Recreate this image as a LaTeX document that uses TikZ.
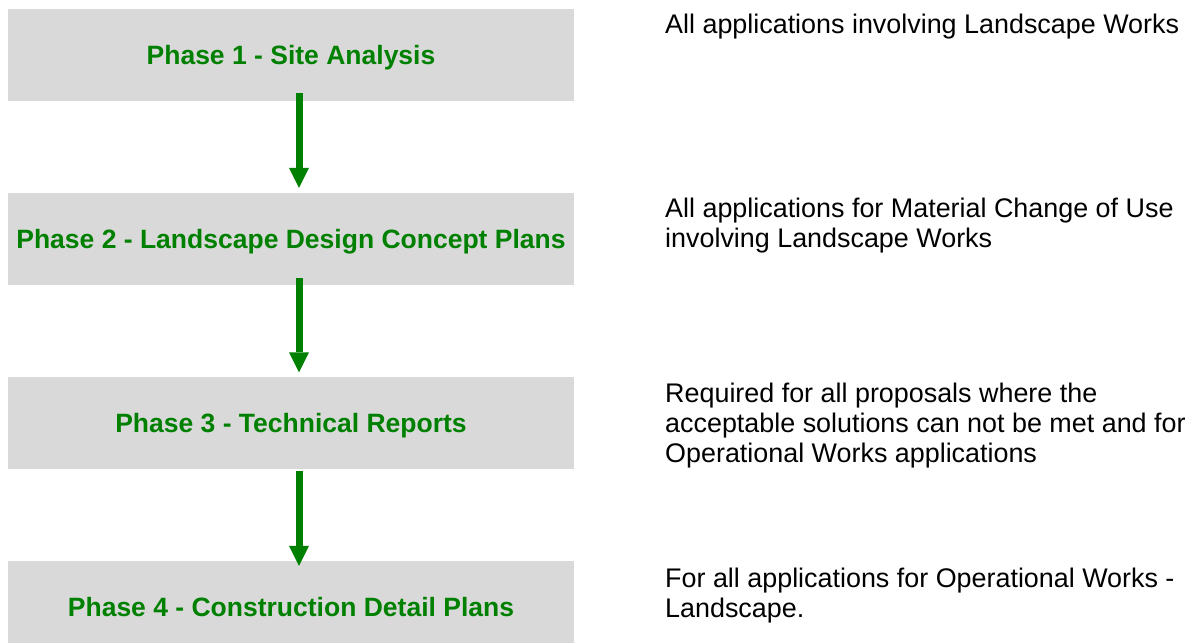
\documentclass[tikz,border=0pt]{standalone}
\usepackage{fontspec}
\setmainfont{Liberation Sans}
\usetikzlibrary{arrows.meta}
\definecolor{boxgray}{RGB}{217,217,217}
\definecolor{phasegreen}{RGB}{0,128,0}
\tikzset{
  phasebox/.style={rectangle, fill=boxgray, draw=none, minimum width=566pt, minimum height=92pt, inner sep=0pt,
    text depth=0pt, text=phasegreen, font=\fontsize{26.5}{30}\selectfont\bfseries},
  flowarrow/.style={draw=phasegreen, line width=7pt, -{Triangle[width=20pt,length=20pt,line width=0pt]}},
  note/.style={anchor=base west, inner sep=0pt, align=left, text=black, font=\fontsize{26.9}{30}\selectfont}
}
\begin{document}
\begin{tikzpicture}[x=1pt,y=-1pt]
\useasboundingbox (0,0) rectangle (1190,642);
\clip (0,0) rectangle (1190,642);
\node[phasebox] (b1) at (291,55) {Phase 1 - Site Analysis};
\node[phasebox] (b2) at (291,239) {Phase 2 - Landscape Design Concept Plans};
\node[phasebox] (b3) at (291,422.5) {Phase 3 - Technical Reports};
\node[phasebox] (b4) at (291,607) {Phase 4 - Construction Detail Plans};
\draw[flowarrow] ([xshift=8pt,yshift=8pt]b1.south) -- ([xshift=8pt,yshift=5pt]b2.north);
\draw[flowarrow] ([xshift=8pt,yshift=7pt]b2.south) -- ([xshift=8pt,yshift=4pt]b3.north);
\draw[flowarrow] ([xshift=8pt,yshift=-2pt]b3.south) -- ([xshift=8pt,yshift=-5pt]b4.north);
\node[note] (t1) at (665,34) {All applications involving Landscape Works};
\node[note] (t2) at (665,247) {All applications for Material Change of Use\\involving Landscape Works};
\node[note] (t3) at (665,462) {Required for all proposals where the\\acceptable solutions can not be met and for\\Operational Works applications};
\node[note] (t4) at (665,617) {For all applications for Operational Works -\\Landscape.};
\end{tikzpicture}
\end{document}
